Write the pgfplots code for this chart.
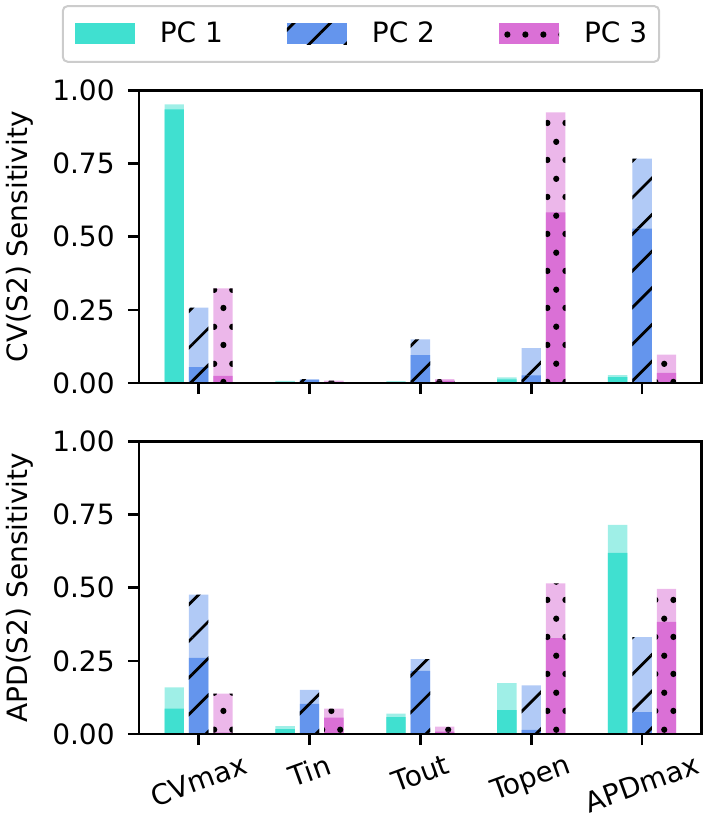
\documentclass[border=0pt]{standalone}
\usepackage{fontspec}
\setmainfont{DejaVu Sans}
\usepackage{graphicx}
\usepackage{pgfplots}
\pgfplotsset{compat=1.18}
\usetikzlibrary{patterns.meta}

\definecolor{pcA}{RGB}{64,224,208}
\definecolor{pcB}{RGB}{100,149,237}
\definecolor{pcC}{RGB}{218,112,214}
\colorlet{pcAl}{pcA!50!white}
\colorlet{pcBl}{pcB!50!white}
\colorlet{pcCl}{pcC!50!white}

% staggered dot hatch
\pgfdeclarepattern{
  name=hdots,
  type=uncolored,
  bottom left={\pgfpoint{0pt}{0pt}},
  top right={\pgfpoint{9.15pt}{18.3pt}},
  tile size={\pgfpoint{9.15pt}{18.3pt}},
  code={
    \pgfpathcircle{\pgfpoint{2.29pt}{4.575pt}}{1.6pt}
    \pgfpathcircle{\pgfpoint{6.865pt}{13.725pt}}{1.6pt}
    \pgfusepath{fill}
  }
}

\tikzset{
  hatchB/.style={postaction={pattern={Lines[angle=45,distance=12.96pt,line width=1.4pt]},pattern color=black}},
  dotsC/.style={postaction={pattern=hdots,pattern color=black}},
}

\pgfplotsset{
  sens/.style={
    scale only axis, width=281.35pt, height=146.3pt,
    anchor=south west,
    xmin=-0.538, xmax=4.538, ymin=0, ymax=1,
    xtick={0,1,2,3,4},
    ytick={0,0.25,0.5,0.75,1},
    yticklabels={0.00,0.25,0.50,0.75,1.00},
    tick pos=left, tick align=outside, major tick length=5.5pt,
    every tick/.append style={black, line width=1.3pt},
    axis line style={line width=1.3pt},
    axis on top,
    tick label style={font=\fontsize{14}{17}\selectfont},
    yticklabel style={anchor=east, inner sep=0pt, xshift=-6.5pt},
    xticklabel style={anchor=north, inner sep=0pt, yshift=-4pt},
    every axis y label/.style={at={(axis description cs:-0.2115,0.5)}, anchor=center, rotate=90, font=\fontsize{14}{17}\selectfont},
    bar width=0.175,
  },
}

\begin{document}
\begin{tikzpicture}
\path[use as bounding box] (0pt,0pt) rectangle (354.5pt,-415pt);

% top panel: CV(S2)
\begin{axis}[sens, at={(69.5pt,-191.5pt)},
  xticklabels={},
  ylabel={CV(S2) Sensitivity},
  legend columns=3,
  legend image code/.code={\path[sharp corners,#1] (0pt,-5.25pt) rectangle (30pt,5.25pt);},
  legend style={at={(0.3945,1.193)}, anchor=center,
    draw=black!20, line width=1pt, rounded corners=2.5pt,
    inner xsep=6pt, inner ysep=8pt,
    font=\fontsize{14}{17}\selectfont,
    nodes={inner sep=0pt},
    /tikz/every odd column/.append style={column sep=12.5pt},
    /tikz/every even column/.append style={column sep=32pt}},
]
\addplot[ybar, bar shift=-0.22, fill=pcAl, draw=none, forget plot] coordinates {(0,0.952) (1,0.007) (2,0.006) (3,0.019) (4,0.027)};
\addplot[ybar, bar shift=-0.22, fill=pcA, draw=none, forget plot] coordinates {(0,0.935) (1,0.004) (2,0.003) (3,0.012) (4,0.020)};
\addplot[ybar, bar shift=0, fill=pcBl, draw=none, hatchB, forget plot] coordinates {(0,0.258) (1,0.013) (2,0.149) (3,0.119) (4,0.767)};
\addplot[ybar, bar shift=0, fill=pcB, draw=none, hatchB, forget plot] coordinates {(0,0.054) (1,0.010) (2,0.095) (3,0.026) (4,0.528)};
\addplot[ybar, bar shift=0.22, fill=pcCl, draw=none, dotsC, forget plot] coordinates {(0,0.323) (1,0.008) (2,0.013) (3,0.925) (4,0.097)};
\addplot[ybar, bar shift=0.22, fill=pcC, draw=none, dotsC, forget plot] coordinates {(0,0.024) (1,0.004) (2,0.008) (3,0.583) (4,0.035)};
\addlegendimage{fill=pcA, draw=none}
\addlegendentry{PC 1}
\addlegendimage{fill=pcB, draw=none, hatchB}
\addlegendentry{PC 2}
\addlegendimage{fill=pcC, draw=none, dotsC}
\addlegendentry{PC 3}
\end{axis}

% bottom panel: APD(S2)
\begin{axis}[sens, at={(69.5pt,-367pt)},
  xticklabels={\rotatebox{20}{CVmax},\rotatebox{20}{Tin},\rotatebox{20}{Tout},\rotatebox{20}{Topen},\rotatebox{20}{APDmax}},
  ylabel={APD(S2) Sensitivity},
]
\addplot[ybar, bar shift=-0.22, fill=pcAl, draw=none] coordinates {(0,0.159) (1,0.027) (2,0.070) (3,0.174) (4,0.715)};
\addplot[ybar, bar shift=-0.22, fill=pcA, draw=none] coordinates {(0,0.087) (1,0.017) (2,0.058) (3,0.082) (4,0.619)};
\addplot[ybar, bar shift=0, fill=pcBl, draw=none, hatchB] coordinates {(0,0.476) (1,0.151) (2,0.256) (3,0.166) (4,0.331)};
\addplot[ybar, bar shift=0, fill=pcB, draw=none, hatchB] coordinates {(0,0.260) (1,0.103) (2,0.216) (3,0.014) (4,0.075)};
\addplot[ybar, bar shift=0.22, fill=pcCl, draw=none, dotsC] coordinates {(0,0.138) (1,0.087) (2,0.025) (3,0.515) (4,0.496)};
\addplot[ybar, bar shift=0.22, fill=pcC, draw=none, dotsC] coordinates {(0,0.005) (1,0.056) (2,0.008) (3,0.328) (4,0.383)};
\end{axis}
\end{tikzpicture}
\end{document}
